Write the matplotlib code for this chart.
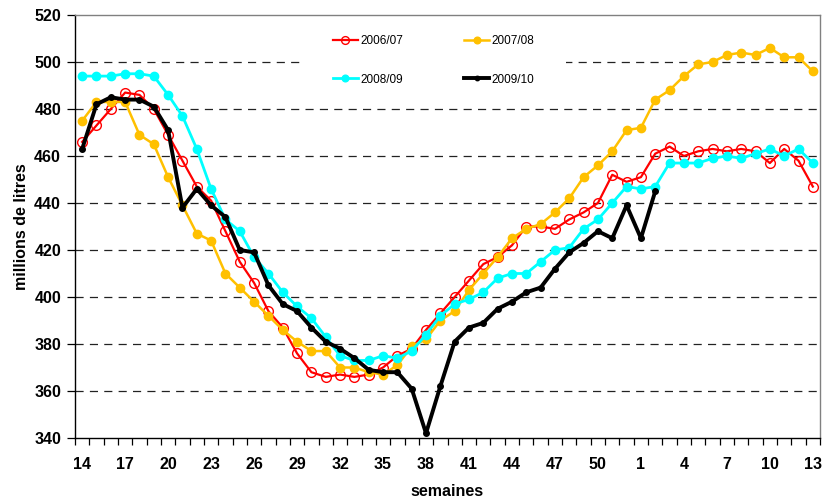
import numpy as np
import matplotlib
matplotlib.use("Agg")
import matplotlib.pyplot as plt
from matplotlib.patches import Rectangle

plt.rcParams['font.family'] = ['Liberation Sans', 'DejaVu Sans']

# weeks from 14 to 52, then 1 to 13
weeks = list(range(14, 53)) + list(range(1, 14))

s_2006 = [466, 473, 480, 487, 486, 480, 469, 458, 447, 441, 428, 415, 406, 394, 387, 376,
          368, 366, 367, 366, 367, 370, 375, 378, 386, 393, 400, 407, 414, 417, 422, 430,
          430, 429, 433, 436, 440, 452, 449,
          451, 461, 464, 460, 462, 463, 462, 463, 462, 457, 463, 458, 447]
s_2007 = [475, 483, 483, 483, 469, 465, 451, 439, 427, 424, 410, 404, 398, 392, 386, 381,
          377, 377, 370, 370, 368, 367, 371, 379, 382, 390, 394, 403, 410, 417, 425, 429,
          431, 436, 442, 451, 456, 462, 471,
          472, 484, 488, 494, 499, 500, 503, 504, 503, 506, 502, 502, 496]
s_2008 = [494, 494, 494, 495, 495, 494, 486, 477, 463, 446, 433, 428, 417, 410, 402, 396,
          391, 383, 375, 373, 373, 375, 374, 377, 384, 392, 397, 399, 402, 408, 410, 410,
          415, 420, 421, 429, 433, 440, 447,
          446, 447, 457, 457, 457, 459, 460, 459, 461, 463, 460, 463, 457]
s_2009 = [463, 482, 485, 484, 484, 481, 471, 438, 446, 439, 434, 420, 419, 405, 397, 394,
          387, 381, 378, 374, 369, 368, 368, 361, 342, 362, 381, 387, 389, 395, 398, 402,
          404, 412, 419, 423, 428, 425, 439,
          425, 445]

y_ticks = list(range(340, 521, 20))

fig = plt.figure(figsize=(8.22, 5.01), dpi=100)
ax = fig.add_axes([75 / 822, 1 - 438 / 501, 745 / 822, 423 / 501])

x = np.arange(len(weeks))

l1, = ax.plot(x, s_2006, color='#FF0000', lw=1.6, marker='o', ms=7,
              mfc='none', mec='#FF0000', mew=1.0, zorder=3)
l2, = ax.plot(x, s_2007, color='#FFC000', lw=1.8, marker='o', ms=6,
              mfc='#FFC000', mec='#FFC000', zorder=3)
l3, = ax.plot(x, s_2008, color='#00FFFF', lw=2.0, marker='o', ms=6,
              mfc='#00FFFF', mec='#00FFFF', zorder=3)
l4, = ax.plot(np.arange(len(s_2009)), s_2009, color='black', lw=2.8, marker='o', ms=4,
              mfc='black', mec='black', zorder=4)

ax.set_xlim(-0.5, len(weeks) - 0.5)
ax.set_ylim(340, 520)

# dashed grid, only inside
for v in y_ticks[1:-1]:
    ax.axhline(v, color='#222222', lw=0.9, ls=(0, (6.5, 5)), zorder=1)

ax.set_yticks(y_ticks)
ax.set_xticks(x[::3])
ax.set_xticklabels([str(w) for w in weeks[::3]])
ax.set_xticks(np.arange(-0.5, len(weeks), 1), minor=True)
ax.tick_params(axis='x', which='major', length=0, pad=14, labelsize=11.5)
ax.tick_params(axis='x', which='minor', length=5, width=0.9, direction='out')
ax.tick_params(axis='y', which='major', length=6, width=0.9, direction='out', pad=4, labelsize=11.5)
for lab in ax.get_xticklabels() + ax.get_yticklabels():
    lab.set_fontweight('bold')

ax.spines['top'].set_color('#808080')
ax.spines['right'].set_color('#808080')
ax.spines['left'].set_color('black')
ax.spines['bottom'].set_color('black')
for sp in ax.spines.values():
    sp.set_linewidth(1.0)

ax.set_ylabel('millions de litres', fontsize=11.5, fontweight='bold', labelpad=4)
ax.set_xlabel('semaines', fontsize=11.5, fontweight='bold', labelpad=8)

# white legend area hiding the grid
ax.add_patch(Rectangle((0.302, 0.80), 0.357, 0.18, transform=ax.transAxes,
                       facecolor='white', edgecolor='none', zorder=1.5))

leg = fig.legend([l1, l3, l2, l4], ['2006/07', '2008/09', '2007/08', '2009/10'],
                 ncol=2, loc='upper left', bbox_to_anchor=(333 / 822, 1 - 35 / 501),
                 frameon=False, fontsize=8.5, borderpad=0, borderaxespad=0,
                 handlelength=2.1, handletextpad=0.2, columnspacing=5.2,
                 labelspacing=2.25, markerscale=0.8)

fig.savefig('out.png', dpi=100)
